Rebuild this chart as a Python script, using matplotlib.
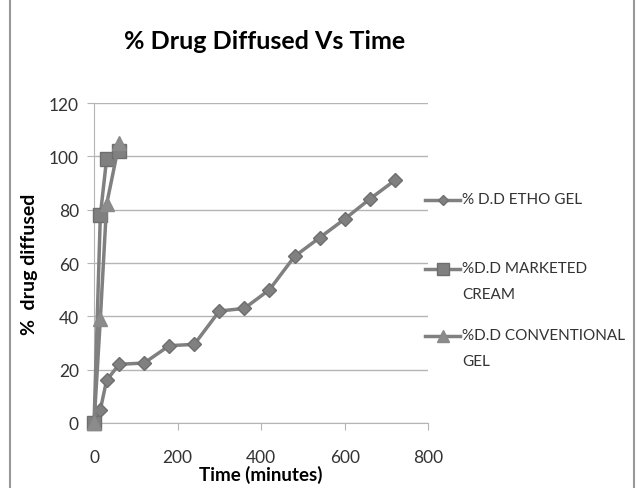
import matplotlib.pyplot as plt
from matplotlib.lines import Line2D
from matplotlib.patches import Rectangle

plt.rcParams['font.family'] = ['Lato', 'DejaVu Sans']

# data
t_etho = [0, 15, 30, 60, 120, 180, 240, 300, 360, 420, 480, 540, 600, 660, 720]
dd_etho = [0, 5, 16, 22, 22.5, 29, 29.5, 42, 43, 50, 62.5, 69.5, 76.5, 84, 91]
t_cream = [0, 15, 30, 60]
dd_cream = [0, 78, 99, 102]
t_conv = [0, 15, 30, 60]
dd_conv = [0, 39, 82, 105]

labels = ['% D.D ETHO GEL', '%D.D MARKETED\nCREAM', '%D.D CONVENTIONAL\nGEL']
gray = '#808080'

fig = plt.figure(figsize=(6.4, 4.89), dpi=100)
ax = fig.add_axes([0.147, 0.133, 0.522, 0.654])

styles = [dict(marker='D', ms=7, mec='#6e6e6e', mfc=gray),
          dict(marker='s', ms=10, mec='#6e6e6e', mfc=gray),
          dict(marker='^', ms=10, mec='#8a8a8a', mfc='#8c8c8c')]
series = [(t_etho, dd_etho), (t_cream, dd_cream), (t_conv, dd_conv)]
for (tx, yy), st in zip(series, styles):
    ax.plot(tx, yy, color=gray, lw=2.5, clip_on=False, zorder=3, **st)

ax.set_xlim(0, 800)
ax.set_ylim(0, 120)
ax.set_xticks([0, 200, 400, 600, 800])
ax.set_yticks(range(0, 121, 20))
ax.yaxis.grid(True, color='#b5b5b5', lw=1)
ax.set_axisbelow(True)
for s in ['top', 'right']:
    ax.spines[s].set_visible(False)
for s in ['left', 'bottom']:
    ax.spines[s].set_color('#b5b5b5')
ax.tick_params(axis='both', colors='#b5b5b5', labelcolor='#333333', labelsize=12.5, length=5)
ax.tick_params(axis='x', pad=14)
ax.tick_params(axis='y', pad=6)

ax.set_xlabel('Time (minutes)', fontsize=13.5, fontweight='bold', labelpad=0)
ax.set_ylabel('%  drug diffused', fontsize=14, fontweight='bold', labelpad=8)
fig.text(0.414, 0.915, '% Drug Diffused Vs Time', fontsize=18, fontweight='bold',
         ha='center', va='center')

# legend on the right, laid out like the spreadsheet legend
leg_y = [0.589, 0.448, 0.311]
for y, lab, st in zip(leg_y, labels, styles):
    fig.add_artist(Line2D([0.664, 0.719], [y, y], transform=fig.transFigure,
                          color=gray, lw=2.5))
    fig.add_artist(Line2D([0.6915], [y], transform=fig.transFigure, color=gray,
                          marker=st['marker'], ms=st['ms'] * 0.8, mec=st['mec'], mfc=st['mfc']))
    fig.text(0.722, y + 0.017, lab, fontsize=11, ha='left', va='top', color='#333333',
             linespacing=2.15)

fig.patches.append(Rectangle((0.016, -0.01), 0.975, 1.02, transform=fig.transFigure,
                             fill=False, edgecolor='#999999', lw=1.5))

fig.savefig('out.png', dpi=100)
